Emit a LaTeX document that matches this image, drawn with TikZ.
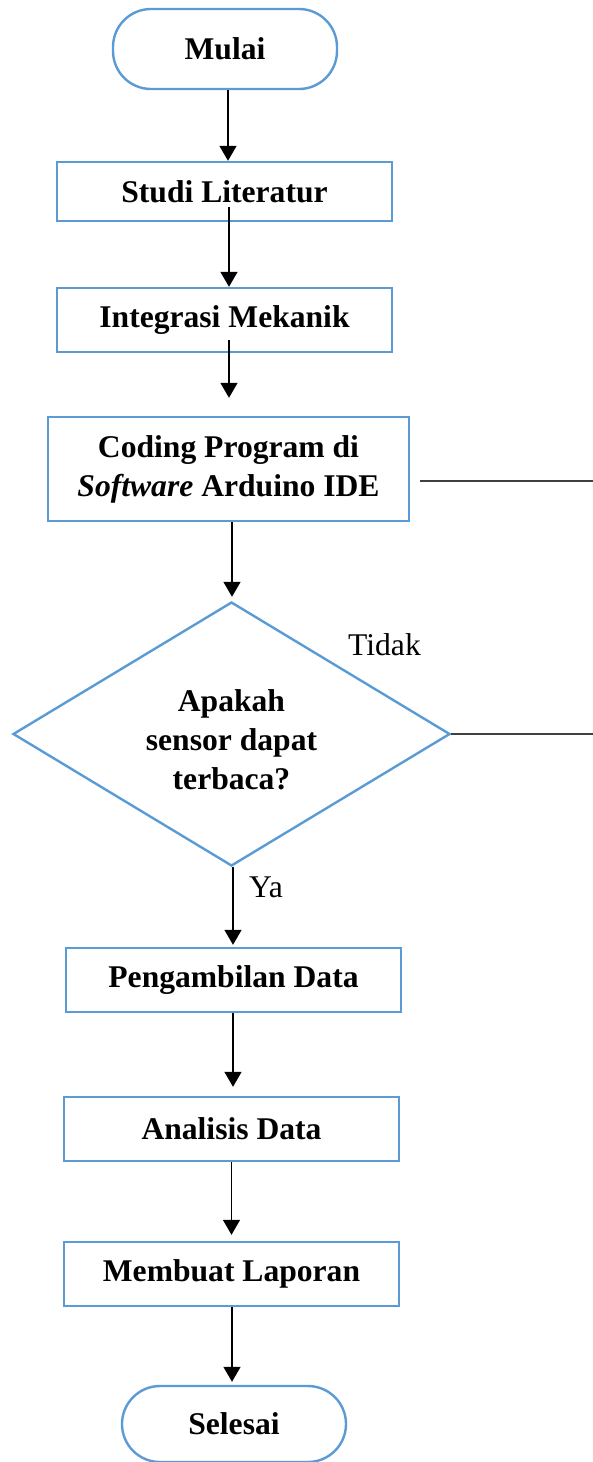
\documentclass[tikz,border=0pt]{standalone}
\usepackage{fontspec}
\setmainfont{Liberation Serif}
\usetikzlibrary{arrows.meta,shapes.geometric,calc}
\definecolor{boxblue}{RGB}{91,155,213}
\definecolor{linegray}{RGB}{64,64,64}
\begin{document}
\begin{tikzpicture}[x=1pt,y=-1pt,
  every node/.style={inner sep=0pt},
  txt/.style={font=\fontsize{31.6}{39}\selectfont\bfseries, align=center},
  procbox/.style={txt, draw=boxblue, line width=2.4pt, rectangle},
  termbox/.style={txt, draw=boxblue, line width=2.4pt, rectangle, rounded corners=38pt, minimum width=224pt},
  decbox/.style={txt, draw=boxblue, line width=2.4pt, diamond, minimum width=437pt, minimum height=264pt, shape aspect=1.65},
  arr/.style={line width=1.4pt, -{Triangle[length=15pt,width=17pt]}},
  side/.style={line width=1.8pt, draw=linegray},
  lbl/.style={font=\fontsize{31.6}{39}\selectfont, anchor=base west}
]
\useasboundingbox (0,0) rectangle (593,1462);

\node[termbox, minimum height=80pt] (mulai) at (225,49) {Mulai};
\node[procbox, minimum width=335pt, minimum height=59pt] (studi) at (224.5,191.5) {Studi Literatur};
\node[procbox, minimum width=335pt, minimum height=64pt] (integ) at (224.5,320) {Integrasi Mekanik};
\node[procbox, minimum width=361pt, minimum height=104pt] (coding) at (228.5,469) {Coding Program di\\\textit{Software} Arduino IDE};
\node[decbox] (dec) at (231.5,734) {\rule{0pt}{34pt}Apakah\\sensor dapat\\terbaca?};
\node[procbox, minimum width=335pt, minimum height=64pt] (peng) at (233.5,980) {Pengambilan Data};
\node[procbox, minimum width=335pt, minimum height=64pt] (anal) at (231.5,1129) {Analisis Data};
\node[procbox, minimum width=335pt, minimum height=64pt] (buat) at (231.5,1274) {Membuat Laporan};
\node[termbox, minimum height=76pt] (sel) at (234,1424) {Selesai};

\node[lbl] (tidak) at (348,655) {Tidak};
\node[lbl] (ya) at (249,897) {Ya};

\coordinate (tc) at (593,481);
\coordinate (te) at (593,734);

\draw[arr] ([xshift=3pt]mulai.south) -- ([xshift=3.5pt]studi.north);
\draw[arr] ([xshift=4.5pt,yshift=15pt]studi.south) -- ([xshift=4.5pt]integ.north);
\draw[arr] ([xshift=4.5pt,yshift=13pt]integ.south) -- ([xshift=0.5pt,yshift=18pt]coding.north);
\draw[arr] ([xshift=3.5pt]coding.south) -- ([xshift=0.5pt,yshift=4pt]dec.north);
\draw[arr] ([xshift=1.5pt]dec.south) -- ([xshift=-0.5pt,yshift=2pt]peng.north);
\draw[arr] ([xshift=-0.5pt]peng.south) -- ([xshift=1.5pt,yshift=9pt]anal.north);
\draw[arr] (anal.south) -- ([yshift=6pt]buat.north);
\draw[arr] ([xshift=0.5pt]buat.south) -- ([xshift=-2pt,yshift=3pt]sel.north);

\draw[side] ([xshift=10pt,yshift=-12pt]coding.east) -- (tc);
\draw[side] (dec.east) -- (te);
\end{tikzpicture}
\end{document}
